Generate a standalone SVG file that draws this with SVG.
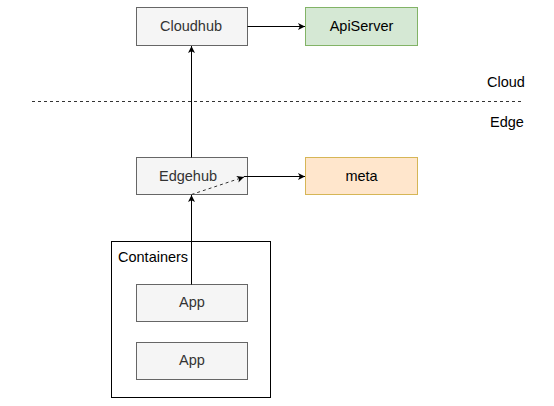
<svg xmlns="http://www.w3.org/2000/svg" width="554" height="406" viewBox="0 0 554 406">
<style>
.g{fill:#f5f5f5;stroke:#666666;stroke-width:1}
.t{font-family:"Liberation Sans",Arial,sans-serif;font-size:14.5px;text-anchor:middle;dominant-baseline:central}
.gt{fill:#333333}
.c{fill:none;stroke:#000;stroke-width:1}
</style>
<defs>
<marker id="a" markerWidth="10" markerHeight="10" refX="8" refY="5" orient="auto" markerUnits="userSpaceOnUse">
<path d="M1,1.5 L8,5 L1,8.5 L2.8,5 Z" fill="#000"/>
</marker>
</defs>
<rect width="554" height="406" fill="#fff"/>
<g id="layers">
<line x1="32" y1="101.5" x2="524" y2="101.5" stroke="#333" stroke-dasharray="3,3"/>
<text class="t" x="506" y="82" fill="#000">Cloud</text>
<text class="t" x="507" y="122" fill="#000">Edge</text>
</g>
<g id="cloudhub"><rect class="g" x="136.5" y="7.5" width="111" height="38"/><text class="t gt" x="191" y="26">Cloudhub</text></g>
<g id="apiserver"><rect x="305.5" y="7.5" width="112" height="38" fill="#d5e8d4" stroke="#82b366"/><text class="t" x="361.5" y="26" fill="#000">ApiServer</text></g>
<g id="edgehub"><rect class="g" x="136.5" y="157.5" width="111" height="37"/><text class="t gt" x="188" y="176">Edgehub</text></g>
<g id="meta"><rect x="305.5" y="157.5" width="112" height="37" fill="#ffe6cc" stroke="#d6b656"/><text class="t" x="361.5" y="176" fill="#000">meta</text></g>
<g id="containers"><rect x="111.5" y="241.5" width="159" height="156" fill="none" stroke="#000"/><text x="118" y="262" font-family="'Liberation Sans',Arial,sans-serif" font-size="14.5" fill="#000">Containers</text></g>
<g id="app1"><rect class="g" x="136.5" y="284.5" width="111" height="37"/><text class="t gt" x="192" y="302">App</text></g>
<g id="app2"><rect class="g" x="136.5" y="342.5" width="111" height="37"/><text class="t gt" x="192" y="360">App</text></g>
<g id="connectors">
<line class="c" x1="247.5" y1="26.5" x2="305" y2="26.5" marker-end="url(#a)"/>
<line class="c" x1="191.5" y1="157.5" x2="191.5" y2="46" marker-end="url(#a)"/>
<line class="c" x1="191.5" y1="284.5" x2="191.5" y2="195" marker-end="url(#a)"/>
<line x1="191.5" y1="194.5" x2="244" y2="177" stroke="#333" stroke-dasharray="3,3" marker-end="url(#a)"/>
<line class="c" x1="244" y1="176.5" x2="305" y2="176.5" marker-end="url(#a)"/>
</g>
</svg>
